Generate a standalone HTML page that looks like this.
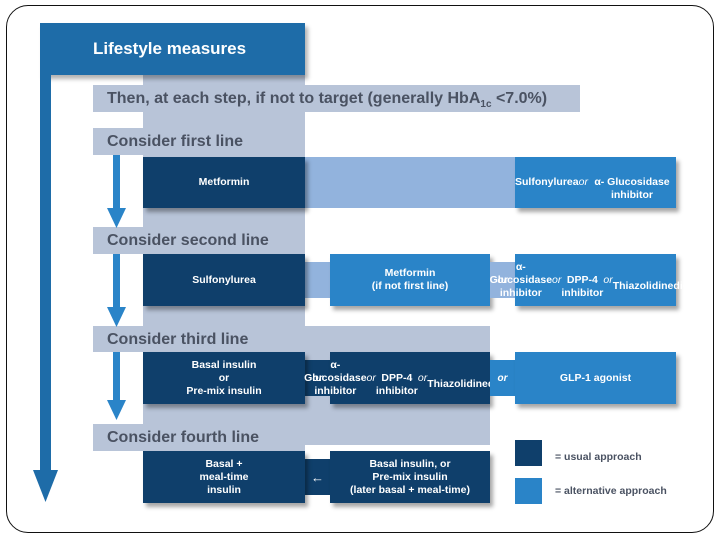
<!DOCTYPE html>
<html><head><style>
body{margin:0;width:720px;height:540px;background:#fff;position:relative;overflow:hidden;font-family:"Liberation Sans",sans-serif;font-weight:bold}
div{position:absolute;box-sizing:border-box}
.frame{left:6px;top:5px;width:708px;height:528px;border:1.5px solid #111;border-radius:22px}
.lt{background:#b8c4d8}
.hd{background:#b8c4d8;color:#4a5262;font-size:16px;padding-left:14px;line-height:27px}
.dk{background:#0f3f6b;color:#fff;font-size:10.5px;display:flex;align-items:center;justify-content:center;text-align:center;line-height:13px;box-shadow:3px 4px 4px rgba(0,0,0,.35)}
.md{background:#2a84c8;color:#fff;font-size:10.5px;display:flex;align-items:center;justify-content:center;text-align:center;line-height:13px;box-shadow:3px 4px 4px rgba(0,0,0,.35)}
.or{color:#fff;font-style:italic;font-size:10px;display:flex;align-items:center;justify-content:center}
i{font-weight:normal}
</style></head><body>
<div class="frame"></div>
<div class="lt" style="left:143px;top:75px;width:162px;height:375px"></div>
<div class="lt" style="left:305px;top:327px;width:185px;height:118px"></div>
<div style="left:40px;top:23px;width:265px;height:52px;background:#1e6ca8;color:#fff;font-size:17px;padding:16px 0 0 53px;box-shadow:3px 4px 4px rgba(0,0,0,.3)">Lifestyle measures</div>
<div style="left:40px;top:75px;width:11px;height:398px;background:#1e6ca8"></div>
<svg style="position:absolute;left:33px;top:470px" width="25" height="32"><polygon points="0,0 25,0 12.5,32" fill="#1e6ca8"/></svg>
<div class="hd" style="left:93px;top:85px;width:487px;height:27px">Then, at each step, if not to target (generally HbA<sub style="font-size:10px">1c</sub> &lt;7.0%)</div>
<div class="hd" style="left:93px;top:128px;width:212px;height:27px">Consider first line</div>
<div class="hd" style="left:93px;top:227px;width:212px;height:27px">Consider second line</div>
<div class="hd" style="left:93px;top:326px;width:397px;height:26px">Consider third line</div>
<div class="hd" style="left:93px;top:424px;width:212px;height:27px">Consider fourth line</div>
<svg style="position:absolute;left:107px;top:155px" width="20" height="270"><g fill="#2a84c8"><rect x="6" y="0" width="7" height="55"/><polygon points="0,53 19,53 9.5,73"/><rect x="6" y="99" width="7" height="55"/><polygon points="0,152 19,152 9.5,172"/><rect x="6" y="197" width="7" height="50"/><polygon points="0,245 19,245 9.5,265"/></g></svg>
<div style="left:305px;top:157px;width:210px;height:51px;background:#92b3dd"></div>
<div class="dk" style="left:143px;top:157px;width:162px;height:51px">Metformin</div>
<div class="md" style="left:515px;top:157px;width:161px;height:51px">Sulfonylurea<br><i>or</i><br>α- Glucosidase inhibitor</div>
<div style="left:305px;top:262px;width:25px;height:36px;background:#92b3dd"></div>
<div class="dk" style="left:143px;top:254px;width:162px;height:52px">Sulfonylurea</div>
<div class="md" style="left:330px;top:254px;width:160px;height:52px">Metformin<br>(if not first line)</div>
<div class="or" style="left:490px;top:262px;width:25px;height:36px;background:#92b3dd">or</div>
<div class="md" style="left:515px;top:254px;width:161px;height:52px">α- Glucosidase inhibitor <i>or</i><br>DPP-4 inhibitor <i>or</i><br>Thiazolidinedione</div>
<div class="or" style="left:305px;top:360px;width:25px;height:36px;background:#0f3f6b">or</div>
<div class="dk" style="left:143px;top:352px;width:162px;height:52px">Basal insulin<br>or<br>Pre-mix insulin</div>
<div class="dk" style="left:330px;top:352px;width:160px;height:52px">α- Glucosidase inhibitor <i>or</i><br>DPP-4 inhibitor <i>or</i><br>Thiazolidinedione</div>
<div class="or" style="left:490px;top:360px;width:25px;height:36px;background:#2a84c8">or</div>
<div class="md" style="left:515px;top:352px;width:161px;height:52px">GLP-1 agonist</div>
<div class="or" style="left:305px;top:459px;width:25px;height:36px;background:#0f3f6b;font-style:normal;font-size:13px">←</div>
<div class="dk" style="left:143px;top:451px;width:162px;height:52px">Basal +<br>meal-time<br>insulin</div>
<div class="dk" style="left:330px;top:451px;width:160px;height:52px">Basal insulin, or<br>Pre-mix insulin<br>(later basal + meal-time)</div>
<div style="left:515px;top:440px;width:27px;height:26px;background:#0f3f6b"></div>
<div style="left:515px;top:478px;width:27px;height:26px;background:#2a84c8"></div>
<div style="left:555px;top:451px;font-size:10.5px;color:#4a5262">= usual approach</div>
<div style="left:555px;top:485px;font-size:10.5px;color:#4a5262">= alternative approach</div>
</body></html>
